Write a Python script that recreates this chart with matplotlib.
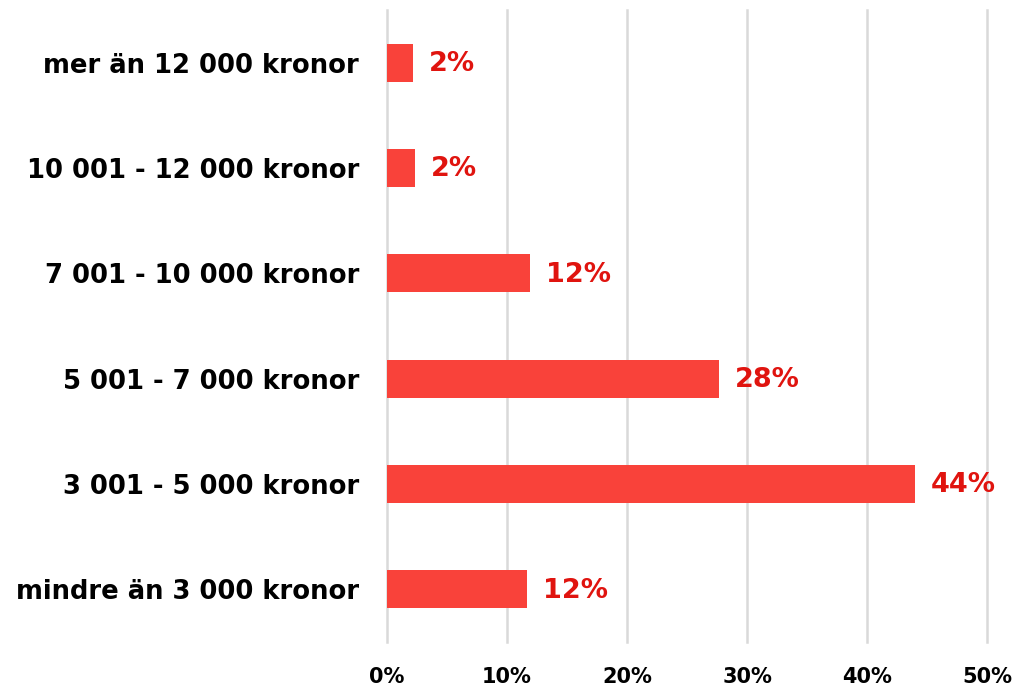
import matplotlib
matplotlib.use("Agg")
import matplotlib.pyplot as plt

categories = ["mindre än 3 000 kronor", "3 001 - 5 000 kronor", "5 001 - 7 000 kronor",
              "7 001 - 10 000 kronor", "10 001 - 12 000 kronor", "mer än 12 000 kronor"]
values = [11.7, 44.0, 27.7, 11.9, 2.3, 2.2]
value_labels = ["12%", "44%", "28%", "12%", "2%", "2%"]
xticks = [0, 10, 20, 30, 40, 50]
xtick_labels = ["0%", "10%", "20%", "30%", "40%", "50%"]

FONT = "DejaVu Sans"
fig = plt.figure(figsize=(10.16, 6.86), dpi=100)
ax = fig.add_axes([387/1016, 1-642/686, 600/1016, 632/686])

y = range(len(categories))
ax.barh(y, values, height=0.36, color="#F9423A", zorder=3)
for yi, v, lab in zip(y, values, value_labels):
    ax.annotate(lab, (v, yi), xytext=(11.5, -1), textcoords="offset points",
                va="center", ha="left", color="#E0140F", fontsize=19.5,
                fontweight="bold", family=FONT)

ax.set_xlim(0, 50)
ax.set_ylim(-0.5, 5.5)
ax.set_xticks(xticks)
ax.set_xticklabels(xtick_labels, fontsize=15, fontweight="bold", family=FONT)
ax.set_yticks(list(y))
ax.set_yticklabels(categories, fontsize=18.6, fontweight="bold", family=FONT)
ax.tick_params(axis="both", length=0)
ax.tick_params(axis="y", pad=20)
ax.tick_params(axis="x", pad=18)
ax.grid(axis="x", color="#D9D9D9", linewidth=1.8, zorder=0)
for gl in ax.get_xgridlines():
    gl.set_clip_on(False)
ax.set_axisbelow(True)
for s in ax.spines.values():
    s.set_visible(False)

fig.savefig("out.png", dpi=100)
